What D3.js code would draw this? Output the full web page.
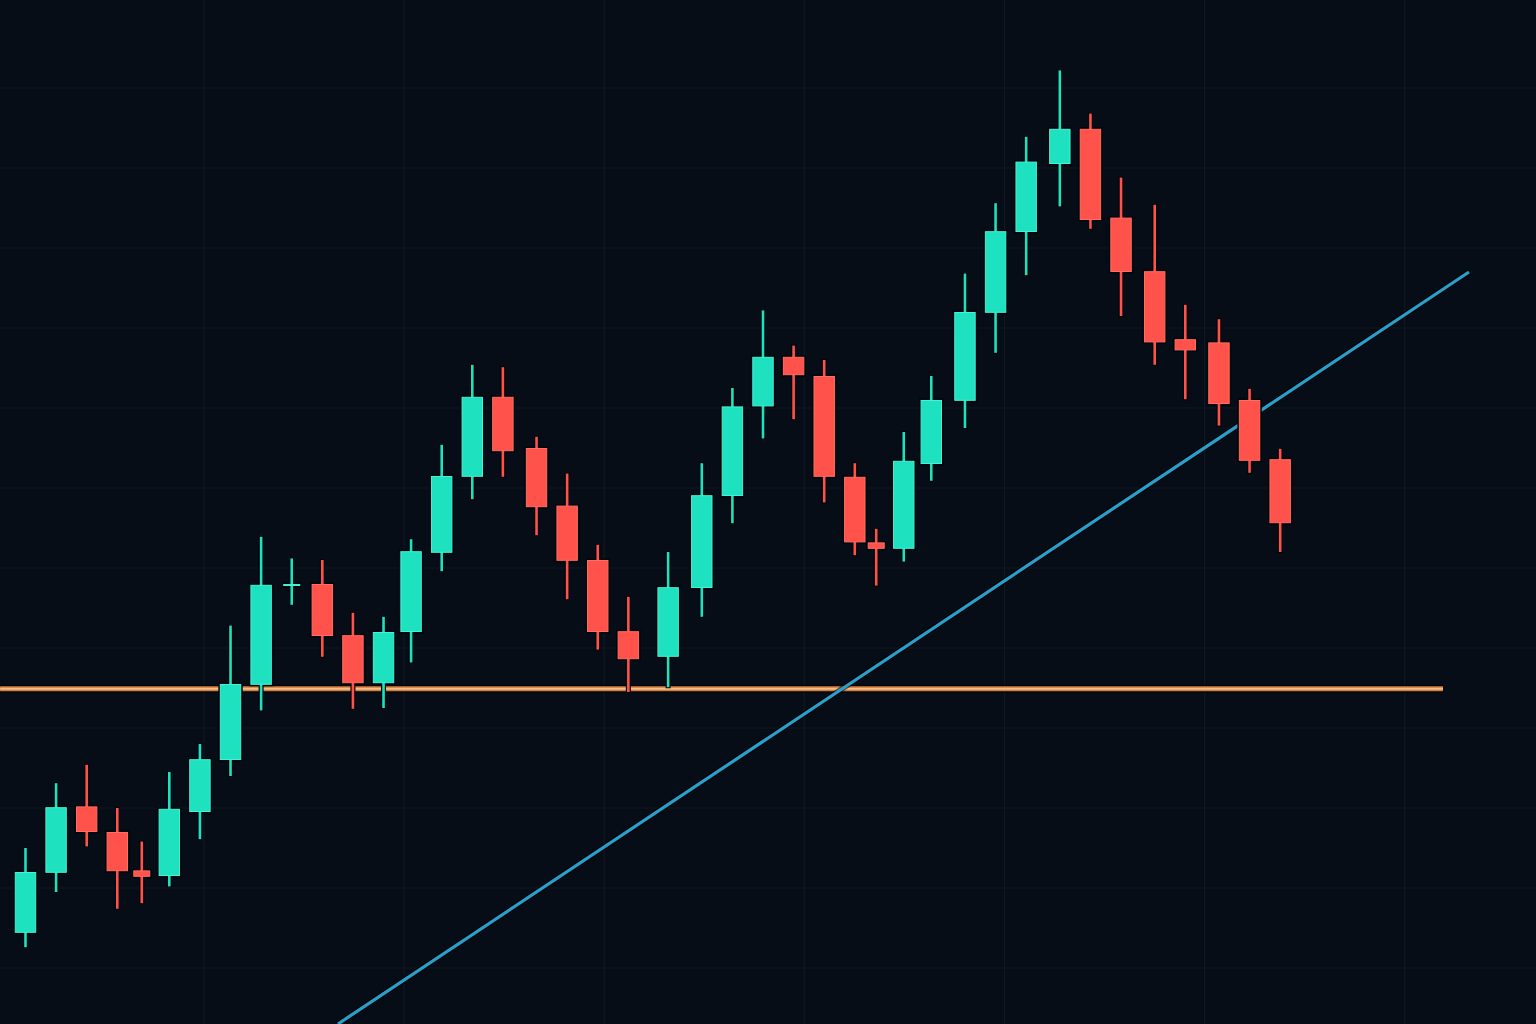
<!DOCTYPE html>
<html>
<head>
<meta charset="utf-8">
<script src="https://cdn.jsdelivr.net/npm/d3@7"></script>
<style>
  html, body { margin: 0; padding: 0; background: #070d17; overflow: hidden; }
  svg { display: block; }
</style>
</head>
<body>
<div class="canvas"></div>
<script>
const W = 1536, H = 1024

// candle time (in bar units) and OHLC prices
const times = [0, 1.0, 2.0, 3.0, 3.8, 4.7, 5.7, 6.7, 7.7, 8.7, 9.7, 10.7, 11.7, 12.6, 13.6, 14.6, 15.6, 16.7, 17.7, 18.7, 19.7, 21.0, 22.1, 23.1, 24.1, 25.1, 26.1, 27.1, 27.8, 28.7, 29.6, 30.7, 31.7, 32.7, 33.8, 34.8, 35.8, 36.9, 37.9, 39.0, 40.0, 41.0]
const opens = [104.4, 111.9, 120.2, 117.0, 112.2, 111.5, 119.5, 126.0, 135.4, 147.8, 148.0, 141.6, 135.6, 142.0, 151.9, 161.4, 171.4, 165.0, 157.8, 151.0, 142.1, 138.9, 147.5, 159.0, 170.2, 176.4, 174.0, 161.4, 153.2, 152.4, 163.0, 170.9, 181.9, 192.0, 200.5, 204.9, 193.8, 187.1, 178.6, 178.2, 171.0, 163.6]
const highs = [115.0, 123.1, 125.4, 120.0, 115.8, 124.5, 128.0, 142.8, 153.9, 151.2, 151.0, 144.4, 143.9, 153.6, 165.4, 175.4, 175.1, 166.4, 161.8, 152.9, 146.4, 152.0, 163.1, 172.5, 182.2, 177.8, 176.0, 163.1, 154.9, 167.0, 174.0, 186.8, 195.6, 203.9, 212.2, 206.8, 198.8, 195.4, 182.9, 181.1, 172.4, 164.9]
const lows = [102.6, 109.5, 115.2, 107.4, 108.1, 110.2, 116.1, 124.0, 132.2, 145.4, 138.9, 132.4, 132.5, 138.2, 149.6, 158.6, 161.4, 154.1, 146.1, 139.8, 134.5, 135.1, 143.9, 155.6, 166.2, 168.6, 158.2, 151.6, 147.8, 150.8, 160.9, 167.5, 176.9, 186.6, 195.2, 192.4, 181.5, 175.4, 171.1, 167.8, 161.9, 152.0]
const closes = [112.0, 120.1, 117.0, 112.1, 111.4, 119.9, 126.1, 135.5, 147.9, 148.0, 141.5, 135.6, 142.0, 152.1, 161.5, 171.4, 164.6, 157.6, 150.9, 142.0, 138.6, 147.6, 159.1, 170.2, 176.4, 174.1, 161.4, 153.2, 152.4, 163.4, 171.0, 182.0, 192.1, 200.8, 204.9, 193.5, 187.0, 178.2, 177.2, 170.5, 163.4, 155.6]

// support level and rising trendline
const supportPrice = 134.9
const supportTimes = [-0.83, 46.32]
const trendTimes = [10.21, 47.17]
const trendPrices = [93.0, 187.0]

// grid
const priceTicks = d3.range(100, 220, 10)
const timeTicks = d3.range(5.83, 49, 6.54)

const candles = times.map((t, i) => ({
    t: t, o: opens[i], h: highs[i], l: lows[i], c: closes[i]
}))

const x = d3.scaleLinear().domain([-0.833, 49.36]).range([0, W])
const y = d3.scaleLinear().domain([93, 221]).range([H, 0])

const svg = d3.select(".canvas").append("svg")
    .attr("width", W)
    .attr("height", H)

svg.append("rect")
    .attr("width", W)
    .attr("height", H)
    .attr("fill", "#070d17")

// grid lines
svg.append("g").selectAll("line")
    .data(priceTicks)
    .enter().append("line")
    .attr("x1", 0)
    .attr("x2", W)
    .attr("y1", d => y(d))
    .attr("y2", d => y(d))
    .attr("stroke", "#101822")
    .attr("stroke-width", 1.2)

svg.append("g").selectAll("line")
    .data(timeTicks)
    .enter().append("line")
    .attr("x1", d => x(d))
    .attr("x2", d => x(d))
    .attr("y1", 0)
    .attr("y2", H)
    .attr("stroke", "#101822")
    .attr("stroke-width", 1.2)

// support line
const sup = svg.append("g")
const supLine = (w, col, op) => sup.append("line")
    .attr("x1", x(supportTimes[0]))
    .attr("x2", x(supportTimes[1]))
    .attr("y1", y(supportPrice))
    .attr("y2", y(supportPrice))
    .attr("stroke", col)
    .attr("stroke-width", w)
    .attr("stroke-opacity", op)
supLine(8, "#000000", 0.55)
supLine(5, "#cf7e3e", 1)
supLine(2, "#f3bd84", 1)

// trendline
const tr = svg.append("g")
const trLine = (w, col, op) => tr.append("line")
    .attr("x1", x(trendTimes[0]))
    .attr("x2", x(trendTimes[1]))
    .attr("y1", y(trendPrices[0]))
    .attr("y2", y(trendPrices[1]))
    .attr("stroke", col)
    .attr("stroke-width", w)
    .attr("stroke-opacity", op)
trLine(5.5, "#000000", 0.6)
trLine(3.2, "#2a9fca", 1)

// candles
const step = x(1) - x(0)
const bodyH = d => Math.max(2, Math.abs(y(d.o) - y(d.c)))
const bodyW = d => bodyH(d) < 8 ? 17 : step * 0.7
const up = d => d.c >= d.o
const fill = d => up(d) ? "#1ee1c0" : "#ff524a"
const edge = d => up(d) ? "#45f2d8" : "#ff6e64"

const g = svg.append("g")
const candle = g.selectAll("g")
    .data(candles)
    .enter().append("g")

// dark halo under wick and body
candle.append("line")
    .attr("x1", d => x(d.t))
    .attr("x2", d => x(d.t))
    .attr("y1", d => y(d.h) - 1)
    .attr("y2", d => y(d.l) + 1)
    .attr("stroke", "#02050a")
    .attr("stroke-width", 5)

candle.append("rect")
    .attr("x", d => x(d.t) - bodyW(d) / 2 - 1.5)
    .attr("y", d => Math.min(y(d.o), y(d.c)) - 1.5)
    .attr("width", d => bodyW(d) + 3)
    .attr("height", d => bodyH(d) + 3)
    .attr("fill", "#02050a")

candle.append("line")
    .attr("x1", d => x(d.t))
    .attr("x2", d => x(d.t))
    .attr("y1", d => y(d.h))
    .attr("y2", d => y(d.l))
    .attr("stroke", fill)
    .attr("stroke-width", 2.6)

candle.append("rect")
    .attr("x", d => x(d.t) - bodyW(d) / 2 + 0.5)
    .attr("y", d => Math.min(y(d.o), y(d.c)) + 0.5)
    .attr("width", d => bodyW(d) - 1)
    .attr("height", d => Math.max(1, bodyH(d) - 1))
    .attr("fill", fill)
    .attr("stroke", edge)
    .attr("stroke-width", 1)
</script>
</body>
</html>
